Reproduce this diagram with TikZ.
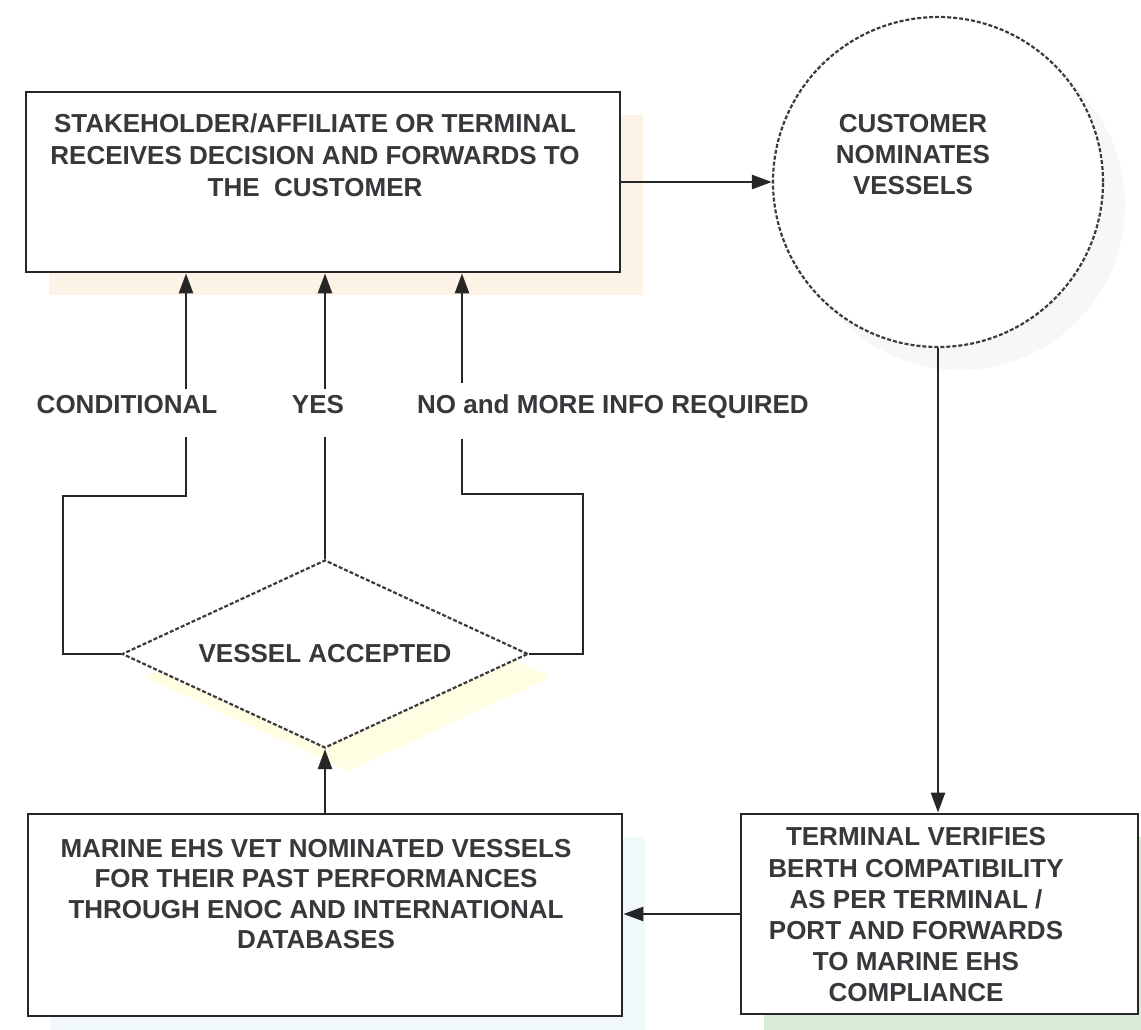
\documentclass[tikz,border=0pt]{standalone}
\usepackage{xcolor}
\usepackage{tikz}
\usepackage{fontspec}
\setmainfont{Liberation Sans}
\usetikzlibrary{shapes.geometric,arrows.meta}

\definecolor{inkgray}{RGB}{38,38,38}
\definecolor{textgray}{RGB}{55,55,60}
\definecolor{peachshade}{RGB}{253,242,230}
\definecolor{lemonshade}{RGB}{255,253,226}
\definecolor{skyshade}{RGB}{240,248,252}
\definecolor{mintshade}{RGB}{216,235,214}
\definecolor{greyshade}{RGB}{246,248,246}

\tikzset{
  box/.style={rectangle, draw=inkgray, line width=2.8pt, fill=white, inner sep=0pt},
  dashbox/.style={draw=inkgray!90, line width=2.2pt, dash pattern=on 4pt off 2pt, fill=white, inner sep=0pt},
  boxtext/.style={text=textgray, font=\bfseries\fontsize{26}{32}\selectfont, align=center, inner sep=0pt},
  branchlabel/.style={text=textgray, font=\bfseries\fontsize{26}{32}\selectfont, inner sep=0pt, text height=19pt, text depth=0pt},
  link/.style={draw=inkgray, line width=2.5pt},
  linkarrow/.style={link, -{Triangle[length=20pt,width=14pt]}}
}

\begin{document}
\begin{tikzpicture}[x=1pt,y=-1pt]
\useasboundingbox (0,0) rectangle (1141,1030);
\clip (0,0) rectangle (1141,1030);
\fill[white] (0,0) rectangle (1141,1030);

\fill[peachshade] (49,115) rectangle (643,295);
\fill[greyshade] (960,205) circle[radius=165pt];
\fill[lemonshade] (348,581) -- (551,677) -- (348,771) -- (145,677) -- cycle;
\fill[skyshade] (51,837) rectangle (645,1039);
\fill[mintshade] (764,837) rectangle (1164,1040);

\node[box, minimum width=594pt, minimum height=180pt] (decide) at (323,182) {};
\node[boxtext] at (315,155) {STAKEHOLDER/AFFILIATE OR TERMINAL\\RECEIVES DECISION AND FORWARDS TO\\THE\ \ CUSTOMER};

\node[dashbox, circle, minimum size=330pt] (nominate) at (938,182) {};
\node[boxtext, font=\bfseries\fontsize{26}{31}\selectfont] at (913,155) {CUSTOMER\\NOMINATES\\VESSELS};

\node[dashbox, diamond, aspect=2.16, minimum width=406pt, minimum height=188pt, text=textgray, font=\bfseries\fontsize{26}{32}\selectfont] (accept) at (325,654) {VESSEL ACCEPTED};

\node[box, minimum width=594pt, minimum height=202pt] (vet) at (325,915) {};
\node[boxtext, font=\bfseries\fontsize{26}{30.5}\selectfont] at (316,894) {MARINE EHS VET NOMINATED VESSELS\\FOR THEIR PAST PERFORMANCES\\THROUGH ENOC AND INTERNATIONAL\\DATABASES};

\node[box, minimum width=397pt, minimum height=200pt] (verify) at (939.5,914) {};
\node[boxtext, font=\bfseries\fontsize{26}{31.2}\selectfont] at (916,915) {TERMINAL VERIFIES\\BERTH COMPATIBILITY\\AS PER TERMINAL /\\PORT AND FORWARDS\\TO MARINE EHS\\COMPLIANCE};

\node[branchlabel] (condtext) at (127,404) {CONDITIONAL};
\node[branchlabel] (yestext) at (318,404) {YES};
\node[branchlabel, anchor=west] (notext) at (417,404) {NO and MORE INFO REQUIRED};

\coordinate (condlow) at (186,437);
\coordinate (condup) at (186,389);
\coordinate (yeslow) at (325,437);
\coordinate (yesup) at (325,389);
\coordinate (nolow) at (462,439);
\coordinate (noup) at (462,383);

\draw[linkarrow] (decide.east) -- (nominate.west);
\draw[linkarrow] (nominate.south) -- (nominate.south |- verify.north);
\draw[linkarrow] (verify.west) -- (vet.east |- verify.west);
\draw[linkarrow] (vet.north) -- (accept.south);

\draw[link] (accept.west) -- ++(-58,0) -- ++(0,-158) -| (condlow);
\draw[linkarrow] (condup) -- (condup |- decide.south);

\draw[link] (accept.north) -- (yeslow);
\draw[linkarrow] (yesup) -- (yesup |- decide.south);

\draw[link] (accept.east) -- ++(54,0) -- ++(0,-160) -| (nolow);
\draw[linkarrow] (noup) -- (noup |- decide.south);
\end{tikzpicture}
\end{document}
